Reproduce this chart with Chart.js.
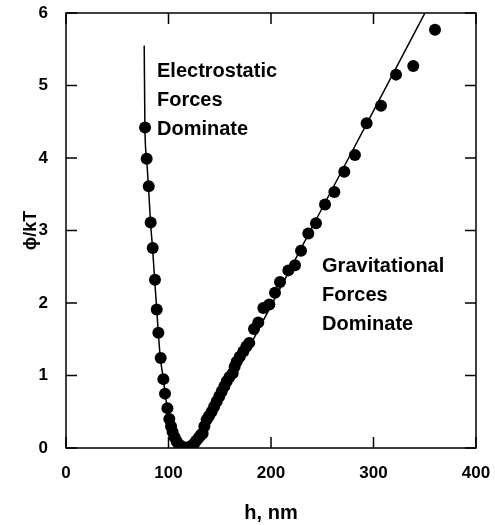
<!DOCTYPE html>
<html>
<head>
<meta charset="utf-8">
<script src="https://cdn.jsdelivr.net/npm/chart.js@4.4.1/dist/chart.umd.min.js"></script>
<style>
  html, body { margin: 0; padding: 0; background: #fff; }
  #wrap { width: 495px; height: 525px; }
</style>
</head>
<body>
<div id="wrap"><canvas id="energy"></canvas></div>
<script>
// measured points (h in nm, phi/kT)
const measH = [77.1, 78.7, 80.7, 82.6, 84.6, 86.8, 88.5, 90.1, 92.4, 95, 96.6, 98.9, 100.8,
  102.5, 104, 106, 108, 110, 112.5, 115, 117.5, 120, 122.5, 125, 127, 129.5, 131.5, 133.3,
  135, 137.2, 139.5, 142.1, 144.5, 147, 149.5, 151.9, 154.5, 156.8, 159.5, 162.6, 164.5,
  166.5, 169.5, 173, 176, 178.8, 183.4, 187.6, 192.5, 198.4, 203.9, 208.8, 216.9, 223.4,
  229.3, 236.4, 243.9, 252.7, 261.8, 271.5, 281.9, 293.3, 307.3, 322, 338.8, 360];
const measPhi = [4.42, 3.99, 3.61, 3.11, 2.76, 2.32, 1.91, 1.59, 1.24, 0.95, 0.75, 0.55, 0.40,
  0.30, 0.22, 0.15, 0.09, 0.05, 0.02, 0.01, 0.0, 0.01, 0.03, 0.06, 0.10, 0.14, 0.18, 0.20,
  0.30, 0.39, 0.44, 0.50, 0.57, 0.64, 0.71, 0.78, 0.85, 0.92, 0.98, 1.03, 1.12,
  1.19, 1.26, 1.33, 1.40, 1.45, 1.64, 1.73, 1.93, 1.98, 2.14, 2.29, 2.45, 2.52,
  2.72, 2.96, 3.10, 3.36, 3.53, 3.81, 4.04, 4.48, 4.72, 5.15, 5.27, 5.77];

// theory curve
const fitH = [76.3, 77.0, 78.6, 80.5, 82.5, 84.5, 86.5, 88.5, 90, 92, 95, 97, 99, 101, 104,
  107, 110, 114, 118, 122, 126, 130, 135, 140, 150, 175, 200, 250, 300, 350.2];
const fitPhi = [5.55, 4.42, 4.0, 3.6, 3.1, 2.75, 2.32, 1.92, 1.6, 1.25, 0.95, 0.72, 0.55, 0.40, 0.24,
  0.12, 0.05, 0.01, 0.0, 0.02, 0.07, 0.13, 0.21, 0.33, 0.61, 1.29, 1.96, 3.31, 4.65, 6.0];

const xTicks = [0, 100, 200, 300, 400];
const yTicks = [0, 1, 2, 3, 4, 5, 6];

// annotation labels
const notes = [
  { h: 88.8, phi: 5.19, lines: ["Electrostatic", "Forces", "Dominate"] },
  { h: 249.8, phi: 2.50, lines: ["Gravitational", "Forces", "Dominate"] }
];

const FONT = "'Liberation Sans', Arial, Helvetica, sans-serif";

// frame + inward ticks on all sides, plus the text notes
const frameTicks = {
  id: "frameTicks",
  afterDatasetsDraw(chart) {
    const { ctx, chartArea: a, scales: { x, y } } = chart;
    const len = 11;
    ctx.save();
    ctx.strokeStyle = "#000";
    ctx.lineWidth = 1.5;
    ctx.strokeRect(a.left, a.top, a.right - a.left, a.bottom - a.top);
    ctx.beginPath();
    xTicks.forEach(v => {
      const px = x.getPixelForValue(v);
      ctx.moveTo(px, a.bottom); ctx.lineTo(px, a.bottom - len);
      ctx.moveTo(px, a.top); ctx.lineTo(px, a.top + len);
    });
    yTicks.forEach(v => {
      const py = y.getPixelForValue(v);
      ctx.moveTo(a.left, py); ctx.lineTo(a.left + len, py);
      ctx.moveTo(a.right, py); ctx.lineTo(a.right - len, py);
    });
    ctx.stroke();

    ctx.fillStyle = "#000";
    ctx.font = "bold 20px " + FONT;
    ctx.textAlign = "left";
    ctx.textBaseline = "middle";
    notes.forEach(n => {
      const px = x.getPixelForValue(n.h);
      const py = y.getPixelForValue(n.phi);
      n.lines.forEach((t, i) => ctx.fillText(t, px, py + i * 28.7));
    });
    ctx.restore();
  }
};

// labels may hang past the frame, the layout padding already leaves room
const noOverhang = s => {
  s.paddingTop = 0; s.paddingBottom = 0; s.paddingLeft = 0; s.paddingRight = 0;
};

const chartEl = document.getElementById("energy");
const energyChart = new Chart(chartEl, {
  type: "scatter",
  data: {
    datasets: [
      {
        label: "data",
        data: measH.map((h, i) => ({ x: h, y: measPhi[i] })),
        pointRadius: 6,
        pointBackgroundColor: "#000",
        pointBorderColor: "#000",
        pointBorderWidth: 0,
        showLine: false,
        order: 1
      },
      {
        label: "theory",
        data: fitH.map((h, i) => ({ x: h, y: fitPhi[i] })),
        showLine: true,
        borderColor: "#000",
        borderWidth: 1.5,
        pointRadius: 0,
        cubicInterpolationMode: "monotone",
        order: 2
      }
    ]
  },
  options: {
    responsive: true,
    maintainAspectRatio: false,
    animation: false,
    events: [],
    layout: { padding: { top: 13, right: 19, bottom: 0, left: 0 } },
    plugins: { legend: { display: false }, tooltip: { enabled: false } },
    scales: {
      x: {
        type: "linear",
        min: 0, max: 400,
        afterBuildTicks: s => { s.ticks = xTicks.map(v => ({ value: v })); },
        afterFit: s => { s.height = 77; noOverhang(s); },
        grid: { display: false, drawTicks: false },
        border: { display: false },
        ticks: { padding: 15, color: "#000", font: { family: FONT, size: 17, weight: "bold" } },
        title: {
          display: true, text: "h, nm", color: "#000",
          font: { family: FONT, size: 20, weight: "bold" },
          padding: { top: 0, bottom: 0 }
        }
      },
      y: {
        type: "linear",
        min: 0, max: 6,
        afterBuildTicks: s => { s.ticks = yTicks.map(v => ({ value: v })); },
        afterFit: s => { s.width = 66; noOverhang(s); },
        grid: { display: false, drawTicks: false },
        border: { display: false },
        ticks: { padding: 18, color: "#000", font: { family: FONT, size: 17, weight: "bold" } },
        title: {
          display: true, text: "ϕ/kT", color: "#000",
          font: { family: FONT, size: 18, weight: "bold" },
          padding: { top: 20, bottom: 0 }
        }
      }
    }
  },
  plugins: [frameTicks]
});
</script>
</body>
</html>
